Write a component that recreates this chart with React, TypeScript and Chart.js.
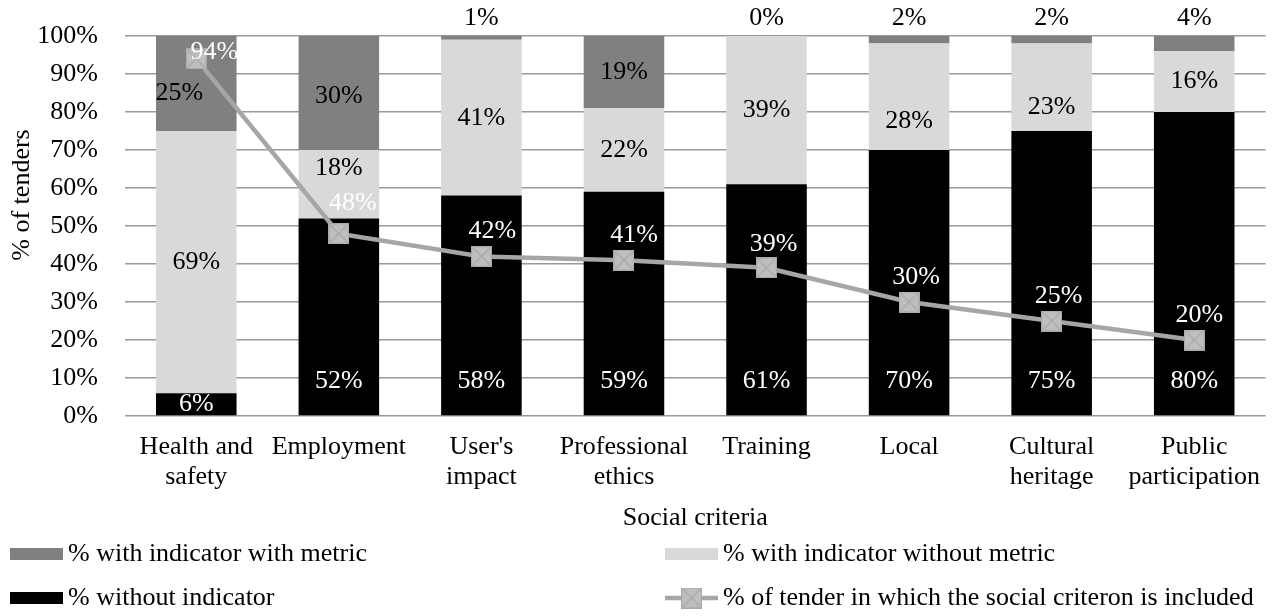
import React, { useEffect, useRef } from "react";
import { Chart, registerables } from "chart.js";

Chart.register(...registerables);

// ---- data ----
const categories: string[][] = [
  ["Health and", "safety"],
  ["Employment"],
  ["User's", "impact"],
  ["Professional", "ethics"],
  ["Training"],
  ["Local"],
  ["Cultural", "heritage"],
  ["Public", "participation"],
];
const withoutIndicator = [6, 52, 58, 59, 61, 70, 75, 80];
const withoutMetric = [69, 18, 41, 22, 39, 28, 23, 16];
const withMetric = [25, 30, 1, 19, 0, 2, 2, 4];
const included = [94, 48, 42, 41, 39, 30, 25, 20];
const yTickValues = [0, 10, 20, 30, 40, 50, 60, 70, 80, 90, 100];

const seriesNames = [
  "% with indicator with metric",
  "% with indicator without metric",
  "% without indicator",
  "% of tender in which the social criteron is included",
];
const yTitle = "% of tenders";
const xTitle = "Social criteria";

// ---- styling ----
const FONT_FAMILY = "'Liberation Serif', 'Times New Roman', serif";
const FONT_SIZE = 26;
const BLACK = "#000000";
const LIGHT = "#d9d9d9";
const DARK = "#808080";
const LINE = "#a6a6a6";
const GRID = "#999999";

// label nudges (px) for a few crowded labels
const lightLabelNudgeY = [0, -16, 0, 0, 0, 24, 20, 0];
const darkLabelNudge: [number, number][] = [[-17, 10], [0, 3], [0, 0], [0, 0], [0, 0], [0, 0], [0, 0], [0, 0]];
const lineLabelNudge: [number, number][] = [
  [18, -7], [14, -30], [11, -25], [10, -25], [7, -24], [7, -25], [7, -25], [5, -25],
];

function makeMarker(): HTMLCanvasElement {
  const c = document.createElement("canvas");
  const s = 21;
  c.width = s;
  c.height = s;
  const g = c.getContext("2d")!;
  g.fillStyle = "#bfbfbf";
  g.fillRect(0, 0, s, s);
  g.strokeStyle = "#a9a9a9";
  g.lineWidth = 1.2;
  g.strokeRect(0.6, 0.6, s - 1.2, s - 1.2);
  g.beginPath();
  g.moveTo(2, 2);
  g.lineTo(s - 2, s - 2);
  g.moveTo(s - 2, 2);
  g.lineTo(2, s - 2);
  g.stroke();
  return c;
}

const font = (size = FONT_SIZE) => `${size}px ${FONT_FAMILY}`;

export default function App() {
  const ref = useRef<HTMLCanvasElement | null>(null);

  useEffect(() => {
    document.body.style.margin = "0";
    const canvas = ref.current;
    if (!canvas) return;
    const marker = makeMarker();

    const labelsPlugin = {
      id: "valueLabels",
      afterDatasetsDraw(chart: any) {
        const ctx = chart.ctx as CanvasRenderingContext2D;
        const area = chart.chartArea;
        ctx.save();
        ctx.font = font();
        ctx.textAlign = "center";
        ctx.textBaseline = "middle";

        const blackMeta = chart.getDatasetMeta(0);
        const lightMeta = chart.getDatasetMeta(1);
        const darkMeta = chart.getDatasetMeta(2);
        const lineMeta = chart.getDatasetMeta(3);

        for (let i = 0; i < categories.length; i++) {
          // without indicator
          const b = blackMeta.data[i].getProps(["x", "y", "base"], true);
          const bh = b.base - b.y;
          ctx.fillStyle = "#ffffff";
          ctx.fillText(withoutIndicator[i] + "%", b.x, bh > 70 ? b.base - 34 : (b.y + b.base) / 2);

          // with indicator without metric
          const l = lightMeta.data[i].getProps(["x", "y", "base"], true);
          ctx.fillStyle = "#000000";
          ctx.fillText(withoutMetric[i] + "%", l.x, (l.y + l.base) / 2 + lightLabelNudgeY[i]);

          // with indicator with metric
          const d = darkMeta.data[i].getProps(["x", "y", "base"], true);
          ctx.fillStyle = "#000000";
          if (withMetric[i] < 5) {
            ctx.fillText(withMetric[i] + "%", d.x, area.top - 18);
          } else {
            ctx.fillText(
              withMetric[i] + "%",
              d.x + darkLabelNudge[i][0],
              (d.y + d.base) / 2 + darkLabelNudge[i][1]
            );
          }
        }
        // line values
        for (let i = 0; i < included.length; i++) {
          const p = lineMeta.data[i].getProps(["x", "y"], true);
          ctx.fillStyle = "#ffffff";
          ctx.fillText(included[i] + "%", p.x + lineLabelNudge[i][0], p.y + lineLabelNudge[i][1]);
        }
        ctx.restore();
      },
      afterDraw(chart: any) {
        const ctx = chart.ctx as CanvasRenderingContext2D;
        ctx.save();
        ctx.font = font();
        ctx.fillStyle = "#000000";
        ctx.textBaseline = "middle";

        // y title
        ctx.save();
        ctx.translate(22, 195);
        ctx.rotate(-Math.PI / 2);
        ctx.textAlign = "center";
        ctx.fillText(yTitle, 0, 0);
        ctx.restore();

        // legend, two columns
        ctx.textAlign = "left";
        const col1 = 10;
        const col2 = 665;
        const boxW = 53;
        const boxH = 12;
        const row1 = 554;
        const row2 = 598;

        ctx.fillStyle = DARK;
        ctx.fillRect(col1, row1 - boxH / 2, boxW, boxH);
        ctx.fillStyle = "#000";
        ctx.fillText(seriesNames[0], col1 + boxW + 5, row1);

        ctx.fillStyle = LIGHT;
        ctx.fillRect(col2, row1 - boxH / 2, boxW, boxH);
        ctx.fillStyle = "#000";
        ctx.fillText(seriesNames[1], col2 + boxW + 5, row1);

        ctx.fillStyle = BLACK;
        ctx.fillRect(col1, row2 - boxH / 2, boxW, boxH);
        ctx.fillStyle = "#000";
        ctx.fillText(seriesNames[2], col1 + boxW + 5, row2);

        ctx.strokeStyle = LINE;
        ctx.lineWidth = 4.5;
        ctx.beginPath();
        ctx.moveTo(col2, row2);
        ctx.lineTo(col2 + boxW, row2);
        ctx.stroke();
        ctx.drawImage(marker, col2 + boxW / 2 - marker.width / 2, row2 - marker.height / 2);
        ctx.fillStyle = "#000";
        ctx.fillText(seriesNames[3], col2 + boxW + 5, row2);
        ctx.restore();
      },
    };

    const barDefaults = { barPercentage: 0.565, categoryPercentage: 1, borderWidth: 0, order: 1, stack: "bars" };

    const chart = new Chart(canvas, {
      type: "bar",
      data: {
        labels: categories as any,
        datasets: [
          { type: "bar", label: seriesNames[2], data: withoutIndicator, backgroundColor: BLACK, ...barDefaults } as any,
          { type: "bar", label: seriesNames[1], data: withoutMetric, backgroundColor: LIGHT, ...barDefaults } as any,
          { type: "bar", label: seriesNames[0], data: withMetric, backgroundColor: DARK, ...barDefaults } as any,
          {
            type: "line",
            label: seriesNames[3],
            data: included,
            borderColor: LINE,
            backgroundColor: "#bfbfbf",
            borderWidth: 4.5,
            pointStyle: marker as any,
            pointRadius: 10,
            stack: "line",
            order: 0,
          } as any,
        ],
      },
      options: {
        animation: false,
        responsive: false,
        maintainAspectRatio: false,
        layout: { padding: { left: 0, right: 7, top: 36, bottom: 82 } },
        plugins: {
          legend: { display: false },
          tooltip: { enabled: false },
        },
        scales: {
          x: {
            stacked: true,
            grid: { display: false, drawTicks: false },
            border: { display: false },
            ticks: {
              color: "#000",
              font: { family: FONT_FAMILY, size: FONT_SIZE, lineHeight: 1.15 },
              padding: 16,
              maxRotation: 0,
              autoSkip: false,
            },
            title: {
              display: true,
              text: xTitle,
              color: "#000",
              font: { family: FONT_FAMILY, size: FONT_SIZE, lineHeight: 1.2 },
              padding: { top: 0, bottom: 0 },
            },
            afterFit: (s: any) => {
              s.height = 118;
            },
          },
          y: {
            stacked: true,
            min: 0,
            max: 100,
            afterBuildTicks: (s: any) => {
              s.ticks = yTickValues.map((v) => ({ value: v }));
            },
            ticks: {
              color: "#000",
              font: { family: FONT_FAMILY, size: FONT_SIZE },
              padding: 27,
              callback: (v: any) => v + "%",
            },
            grid: { color: GRID, lineWidth: 1.5, drawTicks: false },
            border: { display: false },
            afterFit: (s: any) => {
              s.width = 125;
              s.paddingTop = 16;
              s.paddingBottom = 16;
            },
          },
        },
      },
      plugins: [labelsPlugin],
    });

    return () => chart.destroy();
  }, []);

  return <canvas ref={ref} width={1280} height={616} style={{ display: "block", width: 1280, height: 616 }} />;
}
